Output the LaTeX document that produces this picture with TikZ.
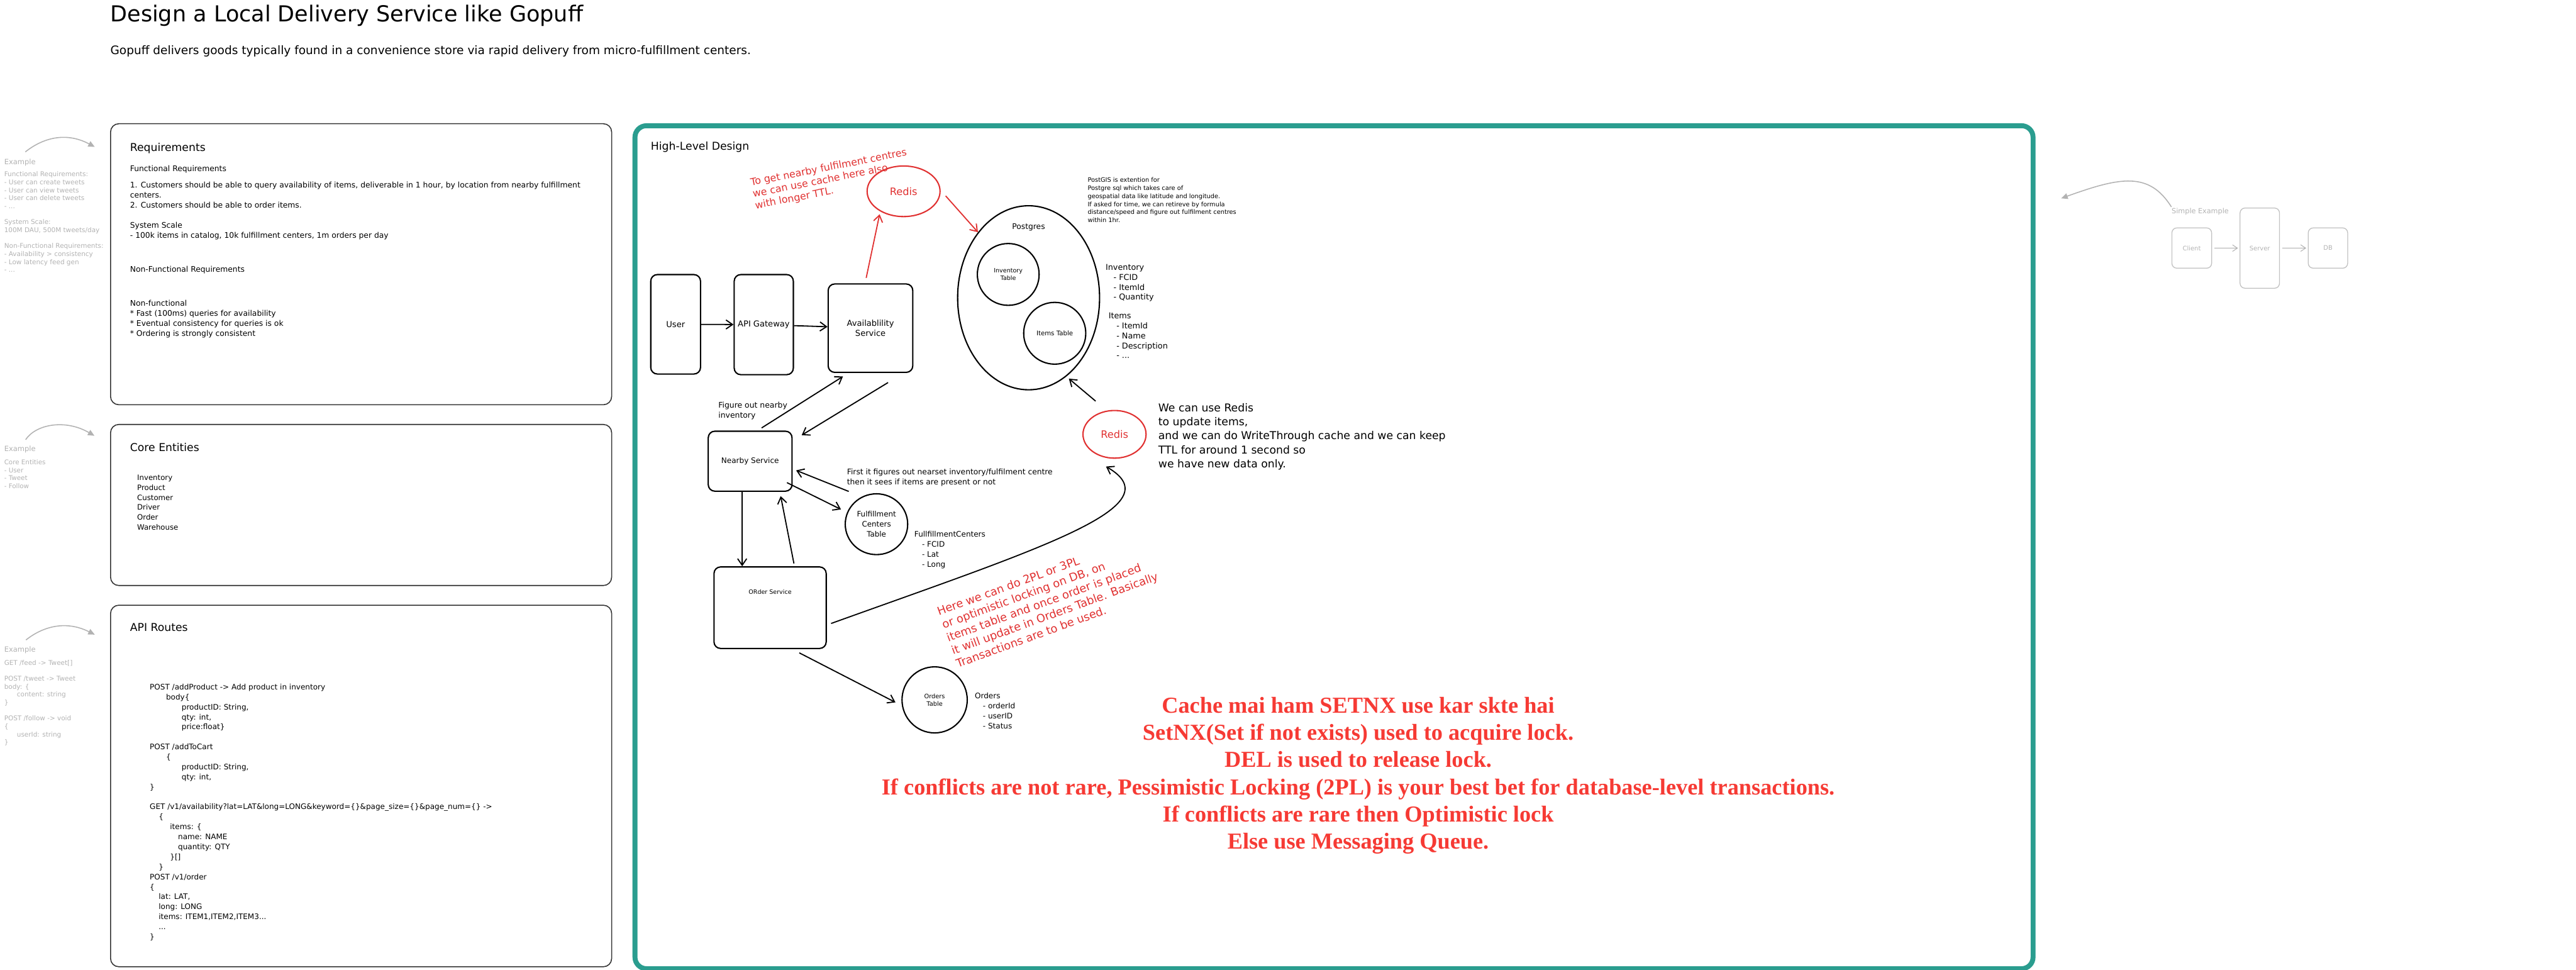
\documentclass[tikz,border=0pt]{standalone}
\usepackage{fontspec}
\setmainfont{DejaVu Sans}
\newfontfamily\lockfont{Liberation Serif}
\usepackage{xcolor}
\usepackage{tikz}
\usetikzlibrary{arrows.meta,positioning,shapes.geometric}
\definecolor{figureteal}{RGB}{42,157,143}
\definecolor{figurered}{RGB}{224,49,49}
\definecolor{figurelock}{RGB}{246,58,52}
\definecolor{figurehint}{RGB}{178,178,178}
\newcommand{\fsz}[2]{\fontsize{#1}{#2}\selectfont}
\tikzset{
  txt/.style={anchor=base west, align=left, inner sep=0pt},
  para/.style={anchor=north west, align=left, inner sep=0pt},
  hint/.style={txt, text=figurehint},
  hintpara/.style={para, text=figurehint},
  panel/.style={draw=black!80, line width=0.6pt, rounded corners=5pt, anchor=north west, inner sep=0pt},
  svc/.style={draw, line width=0.8pt, rounded corners=4pt, align=center, inner sep=0pt},
  tbl/.style={draw, ellipse, line width=0.8pt, align=center, inner sep=0pt},
  cache/.style={tbl, draw=figurered, text=figurered},
  arr/.style={-{Straight Barb[length=4pt,width=5.5pt]}, line width=0.7pt},
  redarr/.style={arr, draw=figurered},
  hintarr/.style={-{Triangle[length=4pt,width=3.5pt]}, draw=figurehint, line width=0.6pt},
  hintflow/.style={-{Straight Barb[length=3pt,width=4pt]}, draw=figurehint, line width=0.4pt, shorten <=1.5pt, shorten >=1pt},
  hintbox/.style={draw=figurehint!80, line width=0.5pt, rounded corners=3pt, text=figurehint, inner sep=0pt, font=\fsz{3.8}{4.6}}
}

\begin{document}
\begin{tikzpicture}[x=1pt, y=-1pt]
  \useasboundingbox (0,0) rectangle (1568,590);
  \node[txt, font=\fsz{13.4}{16}] (title) at (67,13.3) {Design a Local Delivery Service like Gopuff};
  \node[txt, font=\fsz{7.1}{8.5}] (subtitle) at (67,33.3) {Gopuff delivers goods typically found in a convenience store via rapid delivery from micro-fulfillment centers.};

  \node[panel, minimum width=305pt, minimum height=171pt] (reqbox) at (67,75) {};
  \node[panel, minimum width=305pt, minimum height=98pt] (entbox) at (67,258) {};
  \node[panel, minimum width=305pt, minimum height=220pt] (apibox) at (67,368) {};

  \node[txt, font=\fsz{6.6}{8}] (reqtitle) at (79,91.9) {Requirements};
  \node[para, font=\fsz{4.72}{6.2}] (reqtext) at (79,100.6) {Functional Requirements\\[3.5pt]
    1. Customers should be able to query availability of items, deliverable in 1 hour, by location from nearby fulfillment\\
    centers.\\
    2. Customers should be able to order items.\\[6pt]
    System Scale\\
    - 100k items in catalog, 10k fulfillment centers, 1m orders per day\\[14.3pt]
    Non-Functional Requirements\\[14.5pt]
    Non-functional\\
    {*} Fast (100ms) queries for availability\\
    {*} Eventual consistency for queries is ok\\
    {*} Ordering is strongly consistent};

  \node[txt, font=\fsz{6.6}{8}] (enttitle) at (79,274.5) {Core Entities};
  \node[para, font=\fsz{4.5}{6.05}] (entlist) at (83.3,288.8) {Inventory\\Product\\Customer\\Driver\\Order\\Warehouse};

  \node[txt, font=\fsz{6.6}{8}] (apititle) at (79,384) {API Routes};
  \node[para, font=\fsz{4.6}{6.08}] (apitext) at (91,416) {POST /addProduct -> Add product in inventory\\
    \hspace*{9.9pt}body\{\\
    \hspace*{19.4pt}productID: String,\\
    \hspace*{19.4pt}qty: int,\\
    \hspace*{19.4pt}price:float\}\\[6.08pt]
    POST /addToCart\\
    \hspace*{9.9pt}\{\\
    \hspace*{19.4pt}productID: String,\\
    \hspace*{19.4pt}qty: int,\\
    \}\\[6.08pt]
    GET /v1/availability?lat=LAT\&long=LONG\&keyword=\{\}\&page\_size=\{\}\&page\_num=\{\} ->\\
    \hspace*{5.4pt}\{\\
    \hspace*{12.3pt}items: \{\\
    \hspace*{17.2pt}name: NAME\\
    \hspace*{17.2pt}quantity: QTY\\
    \hspace*{12.3pt}\}[]\\
    \hspace*{5.4pt}\}\\
    POST /v1/order\\
    \{\\
    \hspace*{5.4pt}lat: LAT,\\
    \hspace*{5.4pt}long: LONG\\
    \hspace*{5.4pt}items: ITEM1,ITEM2,ITEM3...\\
    \hspace*{5.4pt}...\\
    \}};

  \node[hint, font=\fsz{4.4}{5}] (exreq) at (2.4,100) {Example};
  \node[hintpara, font=\fsz{4}{4.85}] (exreqtext) at (2.4,104.2) {Functional Requirements:\\- User can create tweets\\- User can view tweets\\- User can delete tweets\\- ...\\[4.85pt]System Scale:\\100M DAU, 500M tweets/day\\[4.85pt]Non-Functional Requirements:\\- Availability > consistency\\- Low latency feed gen\\- ...};
  \draw[hintarr] ([xshift=13pt,yshift=4pt]exreq.north west) .. controls (26,84) and (40,80) .. ([xshift=-9.3pt,yshift=-14.4pt]reqbox.north west);

  \node[hint, font=\fsz{4.4}{5}] (exent) at (2.4,274.6) {Example};
  \node[hintpara, font=\fsz{3.95}{4.8}] (exenttext) at (2.4,279.6) {Core Entities\\- User\\- Tweet\\- Follow};
  \draw[hintarr] ([xshift=13.2pt,yshift=3.5pt]exent.north west) .. controls (22,258) and (40,255) .. ([xshift=-9.5pt,yshift=-7.2pt]entbox.north west);

  \node[hint, font=\fsz{4.4}{5}] (exapi) at (2.4,396.7) {Example};
  \node[hintpara, font=\fsz{4}{4.85}] (exapitext) at (2.4,401.5) {GET /feed -> Tweet[]\\[4.85pt]POST /tweet -> Tweet\\body: \{\\\hspace*{7.7pt}content: string\\\}\\[4.85pt]POST /follow -> void\\\{\\\hspace*{7.7pt}userId: string\\\}};
  \draw[hintarr] ([xshift=13.4pt,yshift=3.7pt]exapi.north west) .. controls (26,381.3) and (40,377.3) .. ([xshift=-9.3pt,yshift=-18.2pt]apibox.north west);

  \node[draw=figureteal, line width=3pt, rounded corners=7pt, anchor=north west, minimum width=851pt, minimum height=513pt, inner sep=0pt] (hld) at (385,75) {};
  \node[txt, font=\fsz{6.6}{8}] (hldtitle) at (396,91.4) {High-Level Design};

  \node[svc, minimum width=30.3pt, minimum height=60.5pt, font=\fsz{5}{6}] (user) at (411.25,197.35) {User};
  \node[svc, minimum width=36pt, minimum height=60.9pt, font=\fsz{5}{6}] (gateway) at (464.9,197.55) {API Gateway};
  \node[svc, minimum width=51.5pt, minimum height=53.8pt, font=\fsz{5}{6.2}] (avail) at (529.85,199.7) {Availablility\\Service};
  \node[svc, minimum width=51pt, minimum height=36.5pt, font=\fsz{4.6}{5.6}] (nearby) at (456.6,280.65) {Nearby Service};
  \node[svc, minimum width=68.3pt, minimum height=49.6pt, label={[font=\fsz{3.65}{4.4}, anchor=north, yshift=-14pt, inner sep=0pt]north:ORder Service}] (order) at (468.75,369.8) {};

  \node[tbl, minimum width=38pt, minimum height=37pt, font=\fsz{4.55}{6.2}] (fctable) at (533.5,319) {Fulfillment\\Centers\\Table};
  \node[cache, minimum width=44.4pt, minimum height=30.8pt, font=\fsz{6.2}{7}] (redistop) at (550,116.4) {Redis};
  \node[tbl, minimum width=86.4pt, minimum height=112pt, label={[font=\fsz{4.7}{5.6}, anchor=north, yshift=-11.2pt, inner sep=0pt]north:Postgres}] (postgres) at (626.1,181.2) {};
  \node[tbl, minimum width=37.6pt, minimum height=37.6pt, font=\fsz{3.65}{4.6}] (invtable) at (613.7,167) {Inventory\\Table};
  \node[tbl, minimum width=37.8pt, minimum height=37.6pt, font=\fsz{3.9}{4.7}] (itemstable) at (642,202.8) {Items Table};
  \node[cache, minimum width=38.4pt, minimum height=29pt, font=\fsz{6.2}{7}] (redisbottom) at (678.4,264.3) {Redis};
  \node[tbl, minimum width=39.7pt, minimum height=40.2pt, font=\fsz{3.75}{4.7}] (orderstable) at (568.9,425.9) {Orders\\Table};

  \node[para, font=\fsz{6.05}{7.2}, text=figurered, rotate=11] (cachenote) at (456.2,108.3) {To get nearby fulfilment centres\\we can use cache here also\\with longer TTL.};
  \node[para, font=\fsz{3.75}{4.88}] (postgisnote) at (661.9,107.9) {PostGIS is extention for\\Postgre sql which takes care of\\geospatial data like latitude and longitude.\\If asked for time, we can retireve by formula\\distance/speed and figure out fulfilment centres\\within 1hr.};
  \node[para, font=\fsz{4.9}{6.03}] (invfields) at (672.8,160.7) {Inventory\\\hspace*{4.8pt}- FCID\\\hspace*{4.8pt}- ItemId\\\hspace*{4.8pt}- Quantity};
  \node[para, font=\fsz{4.9}{6.1}] (itemfields) at (674.6,190) {Items\\\hspace*{4.8pt}- ItemId\\\hspace*{4.8pt}- Name\\\hspace*{4.8pt}- Description\\\hspace*{4.8pt}- ...};
  \node[para, font=\fsz{6.6}{8.56}] (redisnote) at (704.9,245.2) {We can use Redis\\to update items,\\and we can do WriteThrough cache and we can keep\\TTL for around 1 second so\\we have new data only.};
  \node[para, font=\fsz{4.75}{6.1}] (nearbynote) at (437.1,244.3) {Figure out nearby\\inventory};
  \node[para, font=\fsz{4.7}{6.1}] (fcnote) at (515.4,285.2) {First it figures out nearset inventory/fulfilment centre\\then it sees if items are present or not};
  \node[para, font=\fsz{4.6}{6.23}] (fcfields) at (556.4,322.9) {FullfillmentCenters\\\hspace*{4.6pt}- FCID\\\hspace*{4.6pt}- Lat\\\hspace*{4.6pt}- Long};
  \node[para, font=\fsz{4.6}{6.1}] (orderfields) at (593.2,421.5) {Orders\\\hspace*{4.9pt}- orderId\\\hspace*{4.9pt}- userID\\\hspace*{4.9pt}- Status};
  \node[para, font=\fsz{6.85}{8.45}, text=figurered, rotate=20] (locknote) at (569.5,369.6) {Here we can do 2PL or 3PL\\or optimistic locking on DB, on\\items table and once order is placed\\it will update in Orders Table. Basically\\Transactions are to be used.};
  \node[anchor=north, align=center, inner sep=0pt, text=figurelock, font=\lockfont\bfseries\fsz{13.9}{16.6}] (lockrules) at (826.7,423.9) {Cache mai ham SETNX use kar skte hai\\SetNX(Set if not exists) used to acquire lock.\\DEL is used to release lock.\\If conflicts are not rare, Pessimistic Locking (2PL) is your best bet for database-level transactions.\\If conflicts are rare then Optimistic lock\\Else use Messaging Queue.};

  \draw[arr] (user) -- (gateway);
  \draw[arr] (gateway) -- (avail);
  \draw[redarr] ([xshift=-2.6pt,yshift=3.3pt]avail.north) -- ([xshift=1.4pt,yshift=-2.8pt]redistop.south west);
  \draw[redarr] ([xshift=3pt,yshift=-2.8pt]redistop.east) -- (postgres.north west);
  \draw[arr] ([xshift=7pt,yshift=1.6pt]nearby.north) -- ([xshift=9.4pt,yshift=-2.1pt]avail.south west);
  \draw[arr] ([xshift=10.7pt,yshift=-5.8pt]avail.south) -- ([xshift=5.5pt,yshift=-2.8pt]nearby.north east);
  \draw[arr] ([xshift=1.2pt,yshift=-2.8pt]fcnote.south west) -- ([xshift=2.1pt,yshift=-5.6pt]nearby.east);
  \draw[arr] ([xshift=-3.5pt,yshift=5.6pt]nearby.south east) -- ([xshift=-2.2pt,yshift=9pt]fctable.west);
  \draw[arr] ([xshift=-4.9pt]nearby.south) -- ([xshift=-17pt]order.north);
  \draw[arr] ([xshift=14.5pt,yshift=1.7pt]order.north) -- ([xshift=18.6pt,yshift=-2.6pt]nearby.south);
  \draw[arr] ([xshift=17.8pt,yshift=-2.3pt]order.south) -- ([xshift=-3.6pt,yshift=-1.5pt]orderstable.west);
  \draw[arr] ([xshift=2.6pt,yshift=-9.6pt]order.east) .. controls (635,333) and (715,308) .. ([xshift=-5.2pt,yshift=-4.7pt]redisbottom.south);
  \draw[arr] ([xshift=-11.5pt,yshift=5.3pt]redisbottom.north) -- ([xshift=24.5pt,yshift=7.2pt]postgres.south);

  \node[hint, font=\fsz{4.3}{5}] (simpleex) at (1321.7,130) {Simple Example};
  \node[hintbox, minimum width=24.2pt, minimum height=24.5pt] (client) at (1334.1,150.95) {Client};
  \node[hintbox, minimum width=24pt, minimum height=48.8pt] (server) at (1375.5,151) {Server};
  \node[hintbox, minimum width=24pt, minimum height=24.5pt] (dbnode) at (1417,150.95) {DB};
  \draw[hintflow] (client) -- (server);
  \draw[hintflow] (server) -- (dbnode);
  \coordinate (hinttip) at (1254.6,120.7);
  \draw[hintarr] ([yshift=0.6pt]simpleex.north west) .. controls (1308,104) and (1290,108) .. (hinttip);
\end{tikzpicture}
\end{document}
